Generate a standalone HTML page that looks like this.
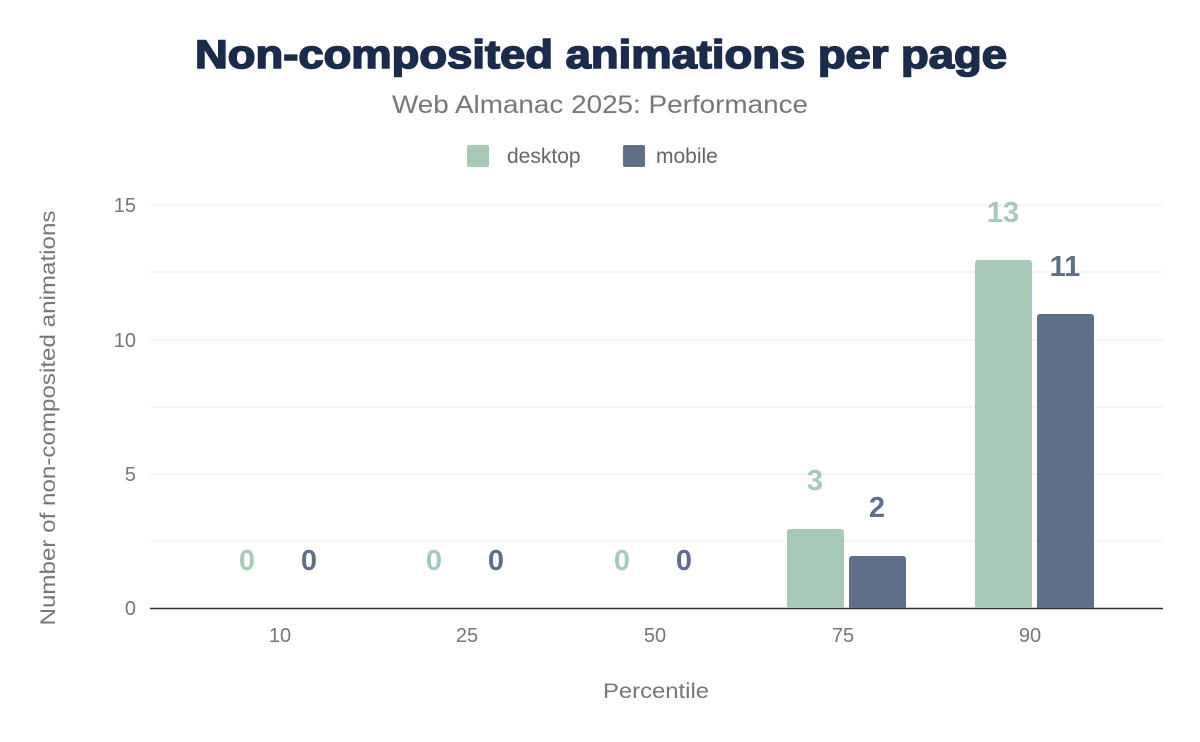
<!DOCTYPE html>
<html><head><meta charset="utf-8"><style>
body{margin:0;background:#fff;}
svg{display:block;font-family:"Liberation Sans",Arial,sans-serif;}
</style></head><body>
<svg width="1200" height="742" viewBox="0 0 1200 742" xmlns="http://www.w3.org/2000/svg">
<rect width="1200" height="742" fill="#fff"/>
<text x="195" y="68" textLength="812" lengthAdjust="spacingAndGlyphs" font-size="40" font-weight="900" fill="#1a2b4b" stroke="#1a2b4b" stroke-width="1.6">Non-composited animations per page</text>
<text x="600" y="113" text-anchor="middle" font-size="25" fill="#777" textLength="416" lengthAdjust="spacingAndGlyphs">Web Almanac 2025: Performance</text>
<rect x="467" y="145" width="22" height="22" rx="2" fill="#a6c9b8"/>
<text x="507" y="163" font-size="21" fill="#666">desktop</text>
<rect x="623" y="145" width="22" height="22" rx="2" fill="#5f6f8a"/>
<text x="656" y="163" font-size="21" fill="#666">mobile</text>
<g stroke="#ebebeb" stroke-width="1">
<line x1="150" x2="1163" y1="205" y2="205"/>
<line x1="150" x2="1163" y1="272" y2="272"/>
<line x1="150" x2="1163" y1="340" y2="340"/>
<line x1="150" x2="1163" y1="407" y2="407"/>
<line x1="150" x2="1163" y1="474" y2="474"/>
<line x1="150" x2="1163" y1="541" y2="541"/>
</g>
<line x1="150" x2="1163" y1="608.5" y2="608.5" stroke="#333" stroke-width="1.5"/>
<g font-size="20" fill="#777" text-anchor="end">
<text x="136" y="212">15</text><text x="136" y="347">10</text><text x="136" y="481">5</text><text x="136" y="615">0</text>
</g>
<g font-size="20" fill="#777" text-anchor="middle">
<text x="280" y="642">10</text><text x="467" y="642">25</text><text x="655" y="642">50</text><text x="843" y="642">75</text><text x="1030" y="642">90</text>
<text x="656" y="698" font-size="21" textLength="106" lengthAdjust="spacingAndGlyphs">Percentile</text>
</g>
<text transform="translate(55,418) rotate(-90)" font-size="21" fill="#777" text-anchor="middle" textLength="415" lengthAdjust="spacingAndGlyphs">Number of non-composited animations</text>
<path d="M787 608V532a3 3 0 0 1 3-3h51a3 3 0 0 1 3 3V608Z" fill="#a6c9b8"/>
<path d="M849 608V559a3 3 0 0 1 3-3h51a3 3 0 0 1 3 3V608Z" fill="#5f6f8a"/>
<path d="M975 608V263a3 3 0 0 1 3-3h51a3 3 0 0 1 3 3V608Z" fill="#a6c9b8"/>
<path d="M1037 608V317a3 3 0 0 1 3-3h51a3 3 0 0 1 3 3V608Z" fill="#5f6f8a"/>
<g font-size="29" font-weight="bold" text-anchor="middle">
<text x="247" y="570" fill="#a6c9b8">0</text><text x="309" y="570" fill="#5f6f8a">0</text>
<text x="434" y="570" fill="#a6c9b8">0</text><text x="496" y="570" fill="#5f6f8a">0</text>
<text x="622" y="570" fill="#a6c9b8">0</text><text x="684" y="570" fill="#5f6f8a">0</text>
<text x="815" y="490" fill="#a6c9b8">3</text><text x="877" y="517" fill="#5f6f8a">2</text>
<text x="1003" y="222" fill="#a6c9b8">13</text><text x="1065" y="276" fill="#5f6f8a">11</text>
</g>
</svg>
</body></html>
